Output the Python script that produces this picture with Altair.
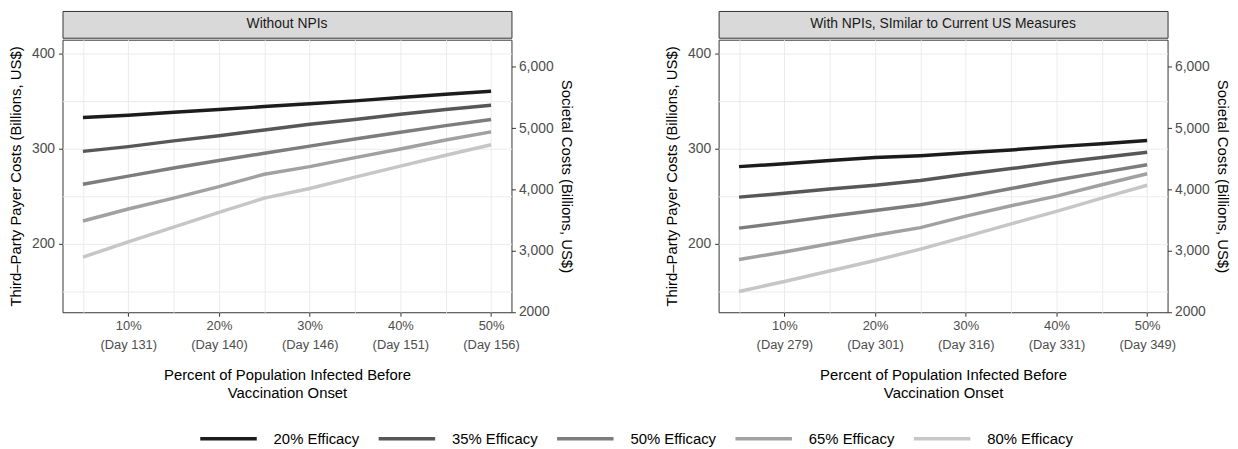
import altair as alt
import pandas as pd

# ---------------- data ----------------
pct = [5, 10, 15, 20, 25, 30, 35, 40, 45, 50]
efficacy = ["20% Efficacy", "35% Efficacy", "50% Efficacy", "65% Efficacy", "80% Efficacy"]
colors = ["#1c1c1c", "#575757", "#7d7d7d", "#a1a1a1", "#c6c6c6"]

# Without NPIs (third-party payer costs, billions US$)
no_npi_20 = [332.5, 335, 338, 341, 344, 347, 350, 353.5, 357, 360]
no_npi_35 = [297, 302, 308, 313.5, 319.5, 325.5, 330.5, 336, 341, 345.5]
no_npi_50 = [262.5, 271, 279.5, 287.5, 295, 302.5, 310, 317, 324, 330.5]
no_npi_65 = [224, 236.5, 248, 260, 273, 281, 290.5, 299.5, 309, 317.5]
no_npi_80 = [186, 202, 217.5, 233, 248, 258, 270, 281.5, 293, 304]

# With NPIs
npi_20 = [281, 284, 287.5, 290.5, 292.5, 295.5, 298.5, 302, 305, 308.5]
npi_35 = [249, 253, 257.5, 261.5, 266.5, 273, 279, 285, 290.5, 296]
npi_50 = [216.5, 222.5, 229, 235, 241, 249, 258, 267, 275, 283]
npi_65 = [183.5, 191.5, 200, 209, 217, 229, 240, 250, 262, 273.5]
npi_80 = [150, 160.5, 171.5, 182.5, 194.5, 207.5, 221, 234, 248, 261.5]

tick_pct = [10, 20, 30, 40, 50]
days_no_npi = [131, 140, 146, 151, 156]
days_npi = [279, 301, 316, 331, 349]

panel_titles = ["Without NPIs", "With NPIs, SImilar to Current US Measures"]
y_left_title = "Third\u2013Party Payer Costs (Billions, US$)"
y_right_title = "Societal Costs (Billions, US$)"
x_title = ["Percent of Population Infected Before", "Vaccination Onset"]

sec_ticks = [2000, 3000, 4000, 5000, 6000]
grid_x = [5, 10, 15, 20, 25, 30, 35, 40, 45, 50]
grid_y = [150, 200, 250, 300, 350, 400]

FONT = "Liberation Sans"
PW, PH = 453, 275


def make_df(series):
    rows = []
    for eff, vals in zip(efficacy, series):
        for p, v in zip(pct, vals):
            rows.append({"pct": p, "cost": v, "eff": eff})
    return pd.DataFrame(rows)


def x_label_expr(days):
    expr = "''"
    for p, d in reversed(list(zip(tick_pct, days))):
        expr = f"datum.value == {p} ? ['{p}%', '(Day {d})'] : {expr}"
    return expr


def panel(series, days, title):
    df = make_df(series)
    lines = alt.Chart(df).mark_line(strokeWidth=3.5).encode(
        x=alt.X(
            "pct:Q",
            scale=alt.Scale(domain=[2.75, 52.25], nice=False, zero=False),
            axis=alt.Axis(
                values=grid_x,
                labelExpr=x_label_expr(days),
                title=x_title,
                titleLineHeight=18,
                titlePadding=16,
                labelLineHeight=20,
                labelFontSize=13,
                labelPadding=3,
                tickColor={"condition": {"test": "datum.value % 10 == 0", "value": "#333333"},
                           "value": "transparent"},
            ),
        ),
        y=alt.Y(
            "cost:Q",
            scale=alt.Scale(domain=[128.2, 414.2], nice=False, zero=False),
            axis=alt.Axis(
                values=grid_y,
                labelExpr="datum.value % 100 == 0 ? datum.value : ''",
                title=y_left_title,
                titlePadding=8,
                labelPadding=4,
                tickColor={"condition": {"test": "datum.value % 100 == 0", "value": "#333333"},
                           "value": "transparent"},
            ),
        ),
        color=alt.Color(
            "eff:N",
            scale=alt.Scale(domain=efficacy, range=colors),
            legend=alt.Legend(title=None),
        ),
        order=alt.Order("pct:Q"),
    )
    sec = alt.Chart(pd.DataFrame({"sec": sec_ticks})).mark_point(opacity=0).encode(
        y=alt.Y(
            "sec:Q",
            scale=alt.Scale(domain=[1995, 6443], nice=False, zero=False),
            axis=alt.Axis(
                orient="right",
                values=sec_ticks,
                labelExpr="datum.value == 2000 ? '2000' : format(datum.value, ',')",
                title=y_right_title,
                grid=False,
                labelPadding=3,
                titlePadding=5,
            ),
        )
    )
    plot = alt.layer(lines, sec).resolve_scale(y="independent").properties(width=PW, height=PH)
    strip = alt.Chart(pd.DataFrame({"t": [title]})).mark_text(
        fontSize=14, font=FONT, color="#1a1a1a"
    ).encode(text="t:N").properties(
        width=PW, height=27,
        view=alt.ViewBackground(fill="#d9d9d9", stroke="#333333", strokeWidth=1),
    )
    return alt.vconcat(strip, plot, spacing=0)


left = panel([no_npi_20, no_npi_35, no_npi_50, no_npi_65, no_npi_80], days_no_npi, panel_titles[0])
right = panel([npi_20, npi_35, npi_50, npi_65, npi_80], days_npi, panel_titles[1])

chart = alt.hconcat(left, right, spacing=91).properties(
    padding={"left": 0, "top": 0, "right": 0, "bottom": 0}
).configure_view(
    stroke="#333333", strokeWidth=1, fill="white"
).configure_axis(
    domain=False,
    grid=True,
    gridColor="#ebebeb",
    gridWidth=1,
    tickSize=4,
    tickWidth=1,
    tickColor="#333333",
    labelFont=FONT,
    labelFontSize=14,
    labelColor="#4d4d4d",
    titleFont=FONT,
    titleFontSize=15,
    titleFontWeight="normal",
    titleColor="#000000",
).configure_legend(
    orient="none",
    legendX=137,
    legendY=401,
    direction="horizontal",
    symbolType="stroke",
    symbolSize=3249,
    symbolStrokeWidth=3.5,
    labelFont=FONT,
    labelFontSize=15,
    labelColor="#000000",
    labelOffset=15,
    columnPadding=12,
    padding=0,
)

chart.save("out.html", embed_options={"renderer": "svg", "actions": False})
